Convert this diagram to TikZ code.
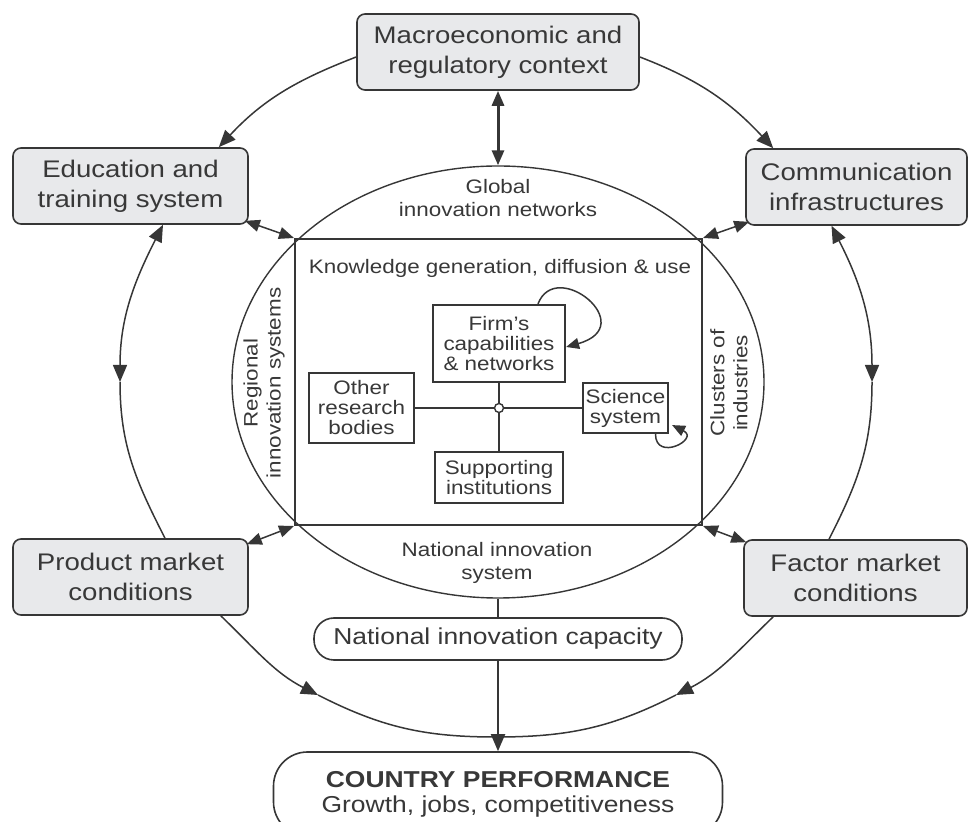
\documentclass[tikz,border=0pt]{standalone}
\usepackage{fontspec}
\setmainfont{Liberation Sans}[FakeStretch=1.15]
\usepackage{xcolor}
\definecolor{nisLine}{HTML}{363636}
\definecolor{nisText}{HTML}{383838}
\definecolor{nisFill}{HTML}{E8E9EB}
\usetikzlibrary{shapes.geometric,arrows.meta}

\tikzset{
  outerbox/.style={draw=nisLine, line width=1.6pt, fill=nisFill, rounded corners=8pt,
    minimum width=235pt, minimum height=76pt, align=center, text=nisText,
    font=\fontsize{24}{30}\selectfont},
  innerbox/.style={draw=nisLine, line width=2.2pt, fill=white, align=center, inner sep=0pt,
    text=nisText, font=\fontsize{19.5}{20}\selectfont},
  nistext/.style={align=center, text=nisText, font=\fontsize{19.5}{23}\selectfont},
  pillbox/.style={draw=nisLine, line width=1.6pt, fill=white, align=center, text=nisText},
  link/.style={nisLine, line width=1.5pt},
  smalltips/.style={>={Triangle[length=15pt,width=12pt]}},
  looptips/.style={>={Triangle[length=13pt,width=11pt]}}
}

\begin{document}
\begin{tikzpicture}[x=1pt, y=1pt, >={Triangle[length=17pt,width=14pt]}]
  \useasboundingbox (0,0) rectangle (968,821);
  \clip (0,0) rectangle (968,821);

  % national innovation system
  \node[ellipse, draw=nisLine, line width=1.4pt, minimum width=532pt, minimum height=432pt] (nis) at (498,439) {};
  \node[draw=nisLine, line width=2pt, minimum width=407pt, minimum height=286pt] (kgdu) at (498.5,439) {};
  \node[nistext] (global) at (498,623) {Global\\innovation networks};
  \node[nistext] (kgdutxt) at (500,553) {Knowledge generation, diffusion \& use};
  \node[nistext, rotate=90] (regional) at (264,438) {Regional\\innovation systems};
  \node[nistext, rotate=90] (clusters) at (729,438) {Clusters of\\industries};
  \node[nistext] (nistxt) at (497,258) {National innovation\\system};

  % actors inside
  \node[innerbox, minimum width=132pt, minimum height=77pt] (firm) at (499,477.5) {Firm's\\capabilities\\\& networks};
  \node[innerbox, minimum width=105pt, minimum height=70pt] (other) at (361.5,413) {Other\\research\\bodies};
  \node[innerbox, minimum width=85pt, minimum height=50pt] (sci) at (625.5,413) {Science\\system};
  \node[innerbox, minimum width=128pt, minimum height=51pt] (supp) at (499,343.5) {Supporting\\institutions};
  \node[circle, draw=nisLine, line width=1.4pt, fill=white, inner sep=0pt, minimum size=9pt] (hub) at (499,413) {};
  \draw[link, line width=2pt] (other) -- (hub) -- (sci);
  \draw[link, line width=2pt] (firm) -- (hub) -- (supp);
  \draw[link, looptips, ->] ([xshift=39pt]firm.north) .. controls +(18,47) and +(75,21) .. ([yshift=-3.5pt]firm.east);
  \draw[link, looptips, ->] ([xshift=30pt]sci.south) .. controls +(0,-28) and +(28,-14) .. ([shift={(3pt,9pt)}]sci.south east);

  % outer boxes
  \node[outerbox, minimum width=282pt] (macro) at (498,769) {Macroeconomic and\\regulatory context};
  \node[outerbox] (edu) at (130.5,635) {Education and\\training system};
  \node[outerbox, minimum width=221pt] (comm) at (856.5,634) {Communication\\infrastructures};
  \node[outerbox] (prod) at (130.5,244) {Product market\\conditions};
  \node[outerbox, minimum width=223pt] (fact) at (855.5,243) {Factor market\\conditions};

  % performance
  \node[pillbox, rounded corners=20pt, minimum width=368pt, minimum height=42pt,
    font=\fontsize{23}{28}\selectfont] (cap) at (498,182) {National innovation capacity};
  \node[pillbox, rounded corners=34pt, minimum width=449pt, minimum height=84pt,
    font=\fontsize{23}{25}\selectfont] (perf) at (498,27) {\textbf{COUNTRY PERFORMANCE}\\Growth, jobs, competitiveness};

  % ring
  \coordinate (ringW) at (120,439);
  \coordinate (ringE) at (872,439);
  \coordinate (ringS) at (496,84);
  \coordinate (ringSW) at (318,126);
  \coordinate (ringSE) at (676,126);
  \draw[link, ->] ([yshift=-5pt]macro.west) to[out=201, in=47] ([xshift=-30pt]edu.north east);
  \draw[link, ->] ([yshift=-5pt]macro.east) to[out=-21, in=133] ([xshift=28pt]comm.north west);
  \draw[link, <->] ([xshift=32.5pt]edu.south) to[out=243, in=90] (ringW);
  \draw[link] (ringW) to[out=270, in=117] ([xshift=34.5pt]prod.north);
  \draw[link, <->] ([xshift=-25pt]comm.south) to[out=-63, in=90] (ringE);
  \draw[link] (ringE) to[out=270, in=63] ([xshift=-26.5pt]fact.north);
  \draw[link, ->] ([xshift=-28pt]prod.south east) to[out=-44, in=153] (ringSW);
  \draw[link] (ringSW) to[out=-27, in=180] (ringS);
  \draw[link, ->] ([xshift=30pt]fact.south west) to[out=224, in=27] (ringSE);
  \draw[link] (ringSE) to[out=207, in=0] (ringS);

  % links to the system
  \draw[link, line width=3pt, smalltips, <->] (macro.south) -- (nis.north);
  \draw[link, smalltips, <->] ([shift={(-4pt,4pt)}]edu.south east) -- (kgdu.north west);
  \draw[link, smalltips, <->] ([shift={(4pt,4pt)}]comm.south west) -- (kgdu.north east);
  \draw[link, smalltips, <->] ([shift={(-2pt,-6pt)}]prod.north east) -- (kgdu.south west);
  \draw[link, smalltips, <->] ([shift={(3pt,-3pt)}]fact.north west) -- (kgdu.south east);
  \draw[link, line width=2pt] (nis.south) -- (cap.north);
  \draw[link, line width=2pt, ->] (cap.south) -- (perf.north);
\end{tikzpicture}
\end{document}
